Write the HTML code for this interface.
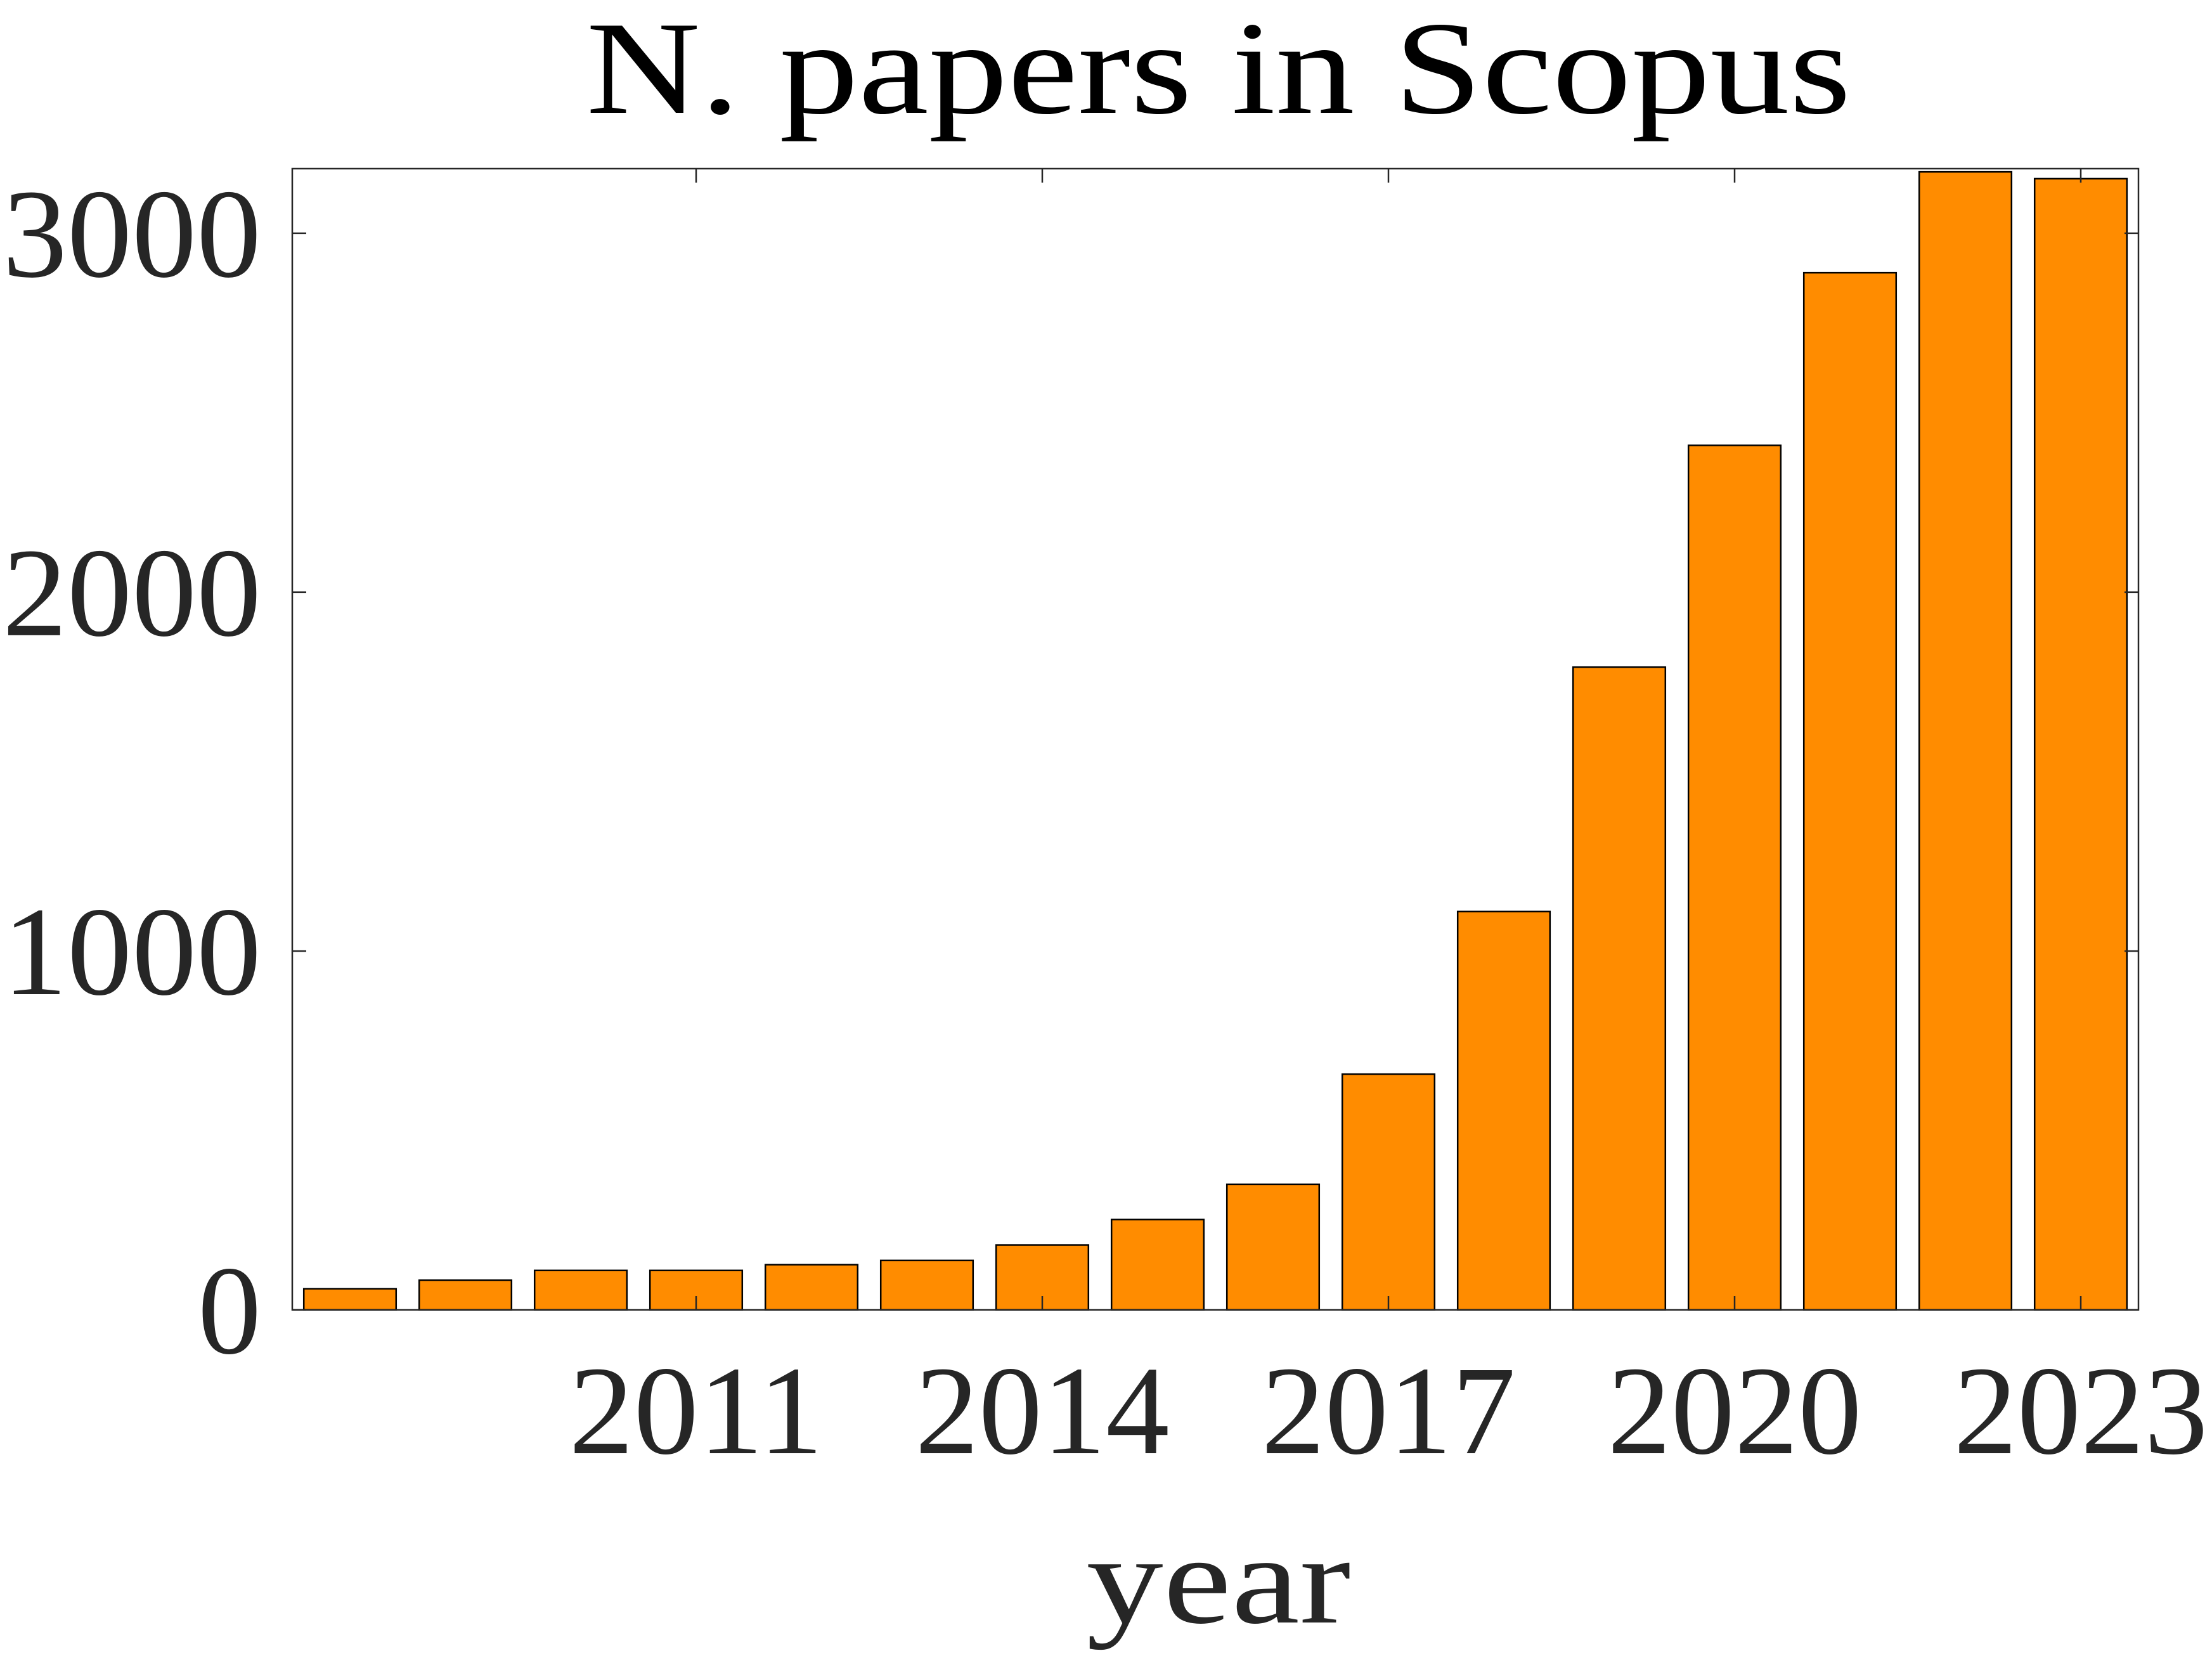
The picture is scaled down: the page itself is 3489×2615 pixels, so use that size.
<!DOCTYPE html>
<html><head><meta charset="utf-8"><style>
html,body{margin:0;padding:0;background:#fff;}
svg{display:block;font-family:"Liberation Serif",serif;}
</style></head><body>
<svg id="chart" width="3489" height="2615" viewBox="0 0 3489 2615">
<text x="1922" y="178" text-anchor="middle" font-size="210" fill="#000" textLength="1995" lengthAdjust="spacingAndGlyphs">N. papers in Scopus</text>
<g id="bars"></g>
<g id="axes"></g>
<text x="1922" y="2559" text-anchor="middle" font-size="200" fill="#262626" textLength="417" lengthAdjust="spacingAndGlyphs">year</text>
</svg>
<script>
const years = [2008,2009,2010,2011,2012,2013,2014,2015,2016,2017,2018,2019,2020,2021,2022,2023];
const papers = [59,83,110,110,126,138,181,252,350,657,1110,1791,2409,2890,3171,3152];
const xTickValues = [2011,2014,2017,2020,2023];
const yTickValues = [0,1000,2000,3000];

const L=461, R=3373, T=266, B=2066;
const xMin=2007.5, xMax=2023.5, yMin=0, yMax=3180;
const sx = v => L + (v-xMin)/(xMax-xMin)*(R-L);
const sy = v => B - (v-yMin)/(yMax-yMin)*(B-T);
const NS="http://www.w3.org/2000/svg";
const bars=document.getElementById('bars'), axes=document.getElementById('axes');
function mk(tag, attrs, parent){const e=document.createElementNS(NS,tag);for(const k in attrs)e.setAttribute(k,attrs[k]);parent.appendChild(e);return e;}

const bw = 0.8*(sx(1)-sx(0));
years.forEach((y,i)=>{
  const r=mk('rect',{x:sx(y)-bw/2,y:sy(papers[i]),width:bw,height:sy(0)-sy(papers[i]),fill:'#ff8c00',stroke:'#000','stroke-width':2.5},bars);
  
  
});

const box=mk('rect',{x:L,y:T,width:R-L,height:B-T,fill:'none',stroke:'#262626','stroke-width':2.5},axes);



xTickValues.forEach(v=>{
  const x=sx(v);
  mk('line',{x1:x,y1:B,x2:x,y2:B-22,stroke:'#262626','stroke-width':2.5},axes);
  mk('line',{x1:x,y1:T,x2:x,y2:T+22,stroke:'#262626','stroke-width':2.5},axes);
  const t=mk('text',{x:x,y:2292,'text-anchor':'middle','font-size':200,fill:'#262626',textLength:401,lengthAdjust:'spacingAndGlyphs'},axes);
  t.textContent=v;
  
  
});
yTickValues.forEach(v=>{
  const y=sy(v);
  mk('line',{x1:L,y1:y,x2:L+22,y2:y,stroke:'#262626','stroke-width':2.5},axes);
  mk('line',{x1:R,y1:y,x2:R-22,y2:y,stroke:'#262626','stroke-width':2.5},axes);
  const attrs={x:412,y:y+68,'text-anchor':'end','font-size':200,fill:'#262626'};
  if(String(v).length===4){attrs.textLength=408;attrs.lengthAdjust='spacingAndGlyphs';}
  const t=mk('text',attrs,axes);
  t.textContent=v;
  
  
});
</script>
</body></html>
